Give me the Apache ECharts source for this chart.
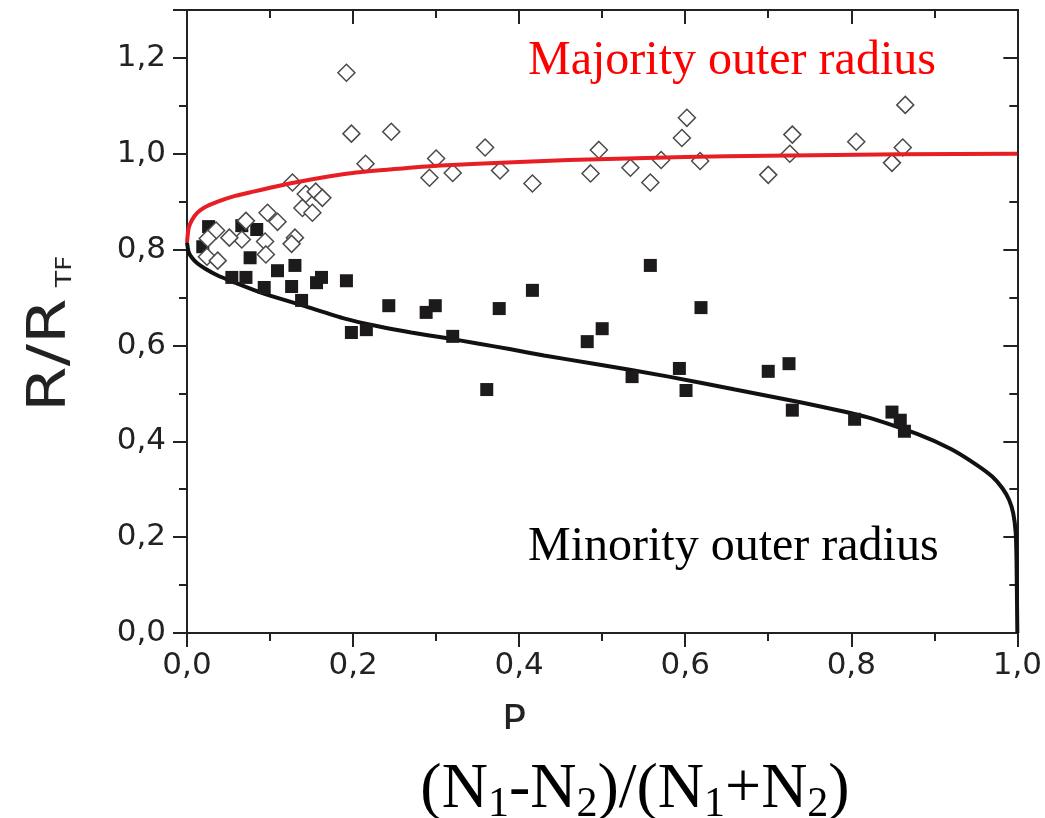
<!DOCTYPE html>
<html>
<head>
<meta charset="utf-8">
<script src="https://cdn.jsdelivr.net/npm/echarts@6/dist/echarts.min.js"></script>
<style>
  html, body { margin: 0; padding: 0; background: #fff; }
  #chart { width: 1045px; height: 818px; }
</style>
</head>
<body>
<div id="chart"></div>
<script>
// Measured outer radii (R / R_TF) versus polarization P
const minorityPoints = [
  [0.019, 0.806], [0.026, 0.848], [0.066, 0.850], [0.084, 0.842], [0.076, 0.783],
  [0.054, 0.742], [0.071, 0.742], [0.093, 0.721], [0.109, 0.756], [0.130, 0.767],
  [0.126, 0.723], [0.138, 0.694], [0.156, 0.731], [0.162, 0.742], [0.192, 0.735],
  [0.198, 0.627], [0.216, 0.633], [0.243, 0.683], [0.288, 0.669], [0.299, 0.683],
  [0.320, 0.619], [0.361, 0.508], [0.376, 0.677], [0.416, 0.715], [0.482, 0.608],
  [0.500, 0.635], [0.536, 0.535], [0.558, 0.767], [0.593, 0.552], [0.601, 0.506],
  [0.619, 0.679], [0.700, 0.546], [0.725, 0.562], [0.729, 0.465], [0.804, 0.446],
  [0.849, 0.461], [0.859, 0.444], [0.864, 0.421]
];

const majorityPoints = [
  [0.192, 1.169], [0.198, 1.042], [0.246, 1.046], [0.215, 0.979], [0.300, 0.990],
  [0.292, 0.950], [0.320, 0.960], [0.359, 1.013], [0.377, 0.965], [0.416, 0.938],
  [0.486, 0.959], [0.496, 1.008], [0.534, 0.971], [0.558, 0.940], [0.571, 0.987],
  [0.596, 1.033], [0.602, 1.075], [0.618, 0.985], [0.700, 0.956], [0.726, 1.000],
  [0.729, 1.040], [0.806, 1.025], [0.849, 0.981], [0.862, 1.013], [0.865, 1.102],
  [0.127, 0.940], [0.143, 0.916], [0.155, 0.921], [0.163, 0.908], [0.139, 0.887],
  [0.151, 0.877], [0.097, 0.877], [0.109, 0.858], [0.071, 0.860], [0.066, 0.821],
  [0.051, 0.825], [0.035, 0.840], [0.025, 0.823], [0.024, 0.785], [0.037, 0.777],
  [0.094, 0.817], [0.095, 0.790], [0.130, 0.825], [0.126, 0.812]
];

// Theory curves, sampled
const majorityCurve = [
  [0, 0.815], [0.002, 0.845], [0.006, 0.862], [0.012, 0.876], [0.020, 0.887],
  [0.037, 0.900], [0.058, 0.912], [0.080, 0.921], [0.100, 0.929], [0.130, 0.940],
  [0.172, 0.953], [0.200, 0.960], [0.250, 0.968], [0.300, 0.975], [0.400, 0.983],
  [0.460, 0.987], [0.600, 0.993], [0.700, 0.996], [0.860, 0.999], [1.000, 1.000]
];

const minorityCurve = [
  [0, 0.815], [0.002, 0.795], [0.006, 0.783], [0.012, 0.772], [0.022, 0.760],
  [0.037, 0.746], [0.058, 0.731], [0.080, 0.716], [0.100, 0.704], [0.140, 0.683],
  [0.190, 0.656], [0.230, 0.640], [0.270, 0.627], [0.310, 0.616], [0.350, 0.604],
  [0.390, 0.592], [0.430, 0.579], [0.490, 0.562], [0.580, 0.535], [0.660, 0.508],
  [0.740, 0.481], [0.820, 0.450], [0.880, 0.415], [0.920, 0.384], [0.950, 0.352],
  [0.970, 0.326], [0.982, 0.302], [0.990, 0.278], [0.995, 0.250], [0.998, 0.210],
  [0.999, 0.150], [1.000, 0.000]
];

const xTicks = { min: 0, max: 1, step: 0.2 };
const yTicks = { min: 0, max: 1.3, step: 0.2, labelMax: 1.2 };

const AXIS_COLOR = '#222';
const LABEL_FONT = 'DejaVu Sans';
const SERIF = 'Liberation Serif';

function commaLabel(v) {
  return v.toFixed(1).replace('.', ',');
}

function frameAxis(extra) {
  return Object.assign({
    type: 'value',
    axisLine: { show: true, onZero: false, lineStyle: { color: AXIS_COLOR, width: 2 } },
    splitLine: { show: false },
    minorSplitLine: { show: false }
  }, extra);
}

// Text runs with subscripts: each piece is placed after the previous one,
// using the canvas font metrics for its width.
const measureCtx = document.createElement('canvas').getContext('2d');
function textWidth(str, size, family) {
  measureCtx.font = size + 'px "' + family + '"';
  return measureCtx.measureText(str).width;
}
function textRun(pieces, family, fill, z) {
  let x = 0;
  const out = [];
  pieces.forEach(p => {
    out.push({
      type: 'text', x: x, y: p.dy, z: z,
      style: { text: p.text, fill: fill, font: p.size + 'px "' + family + '"', align: 'left', verticalAlign: 'middle' }
    });
    x += textWidth(p.text, p.size, family) + (p.gap || 0);
  });
  return { children: out, width: x };
}

// (N1-N2)/(N1+N2) below the P axis title
const MAIN = 64, SUB = 42;
const formulaRun = textRun([
  { text: '(N', size: MAIN, dy: 0 },
  { text: '1', size: SUB, dy: 15 },
  { text: '-N', size: MAIN, dy: 0 },
  { text: '2', size: SUB, dy: 15 },
  { text: ')/(N', size: MAIN, dy: 0 },
  { text: '1', size: SUB, dy: 15 },
  { text: '+N', size: MAIN, dy: 0 },
  { text: '2', size: SUB, dy: 15 },
  { text: ')', size: MAIN, dy: 0 }
], SERIF, '#000', 12);

// R/R_TF axis title, drawn along the y axis
const yTitleRun = textRun([
  { text: 'R/R', size: 54, dy: 0, gap: 9 },
  { text: 'TF', size: 22, dy: 14 }
], LABEL_FONT, AXIS_COLOR, 10);

const chart = echarts.init(document.getElementById('chart'), null, { renderer: 'canvas' });

chart.setOption({
  animation: false,
  backgroundColor: '#fff',
  grid: { left: 187, right: 26, top: 10, bottom: 185, containLabel: false },
  xAxis: [
    frameAxis({
      position: 'bottom', min: xTicks.min, max: xTicks.max, interval: xTicks.step,
      axisTick: { show: true, inside: false, length: 14, lineStyle: { color: AXIS_COLOR, width: 2 } },
      minorTick: { show: true, splitNumber: 2, length: 8, lineStyle: { color: AXIS_COLOR, width: 2 } },
      axisLabel: { formatter: commaLabel, fontFamily: LABEL_FONT, fontSize: 31, color: AXIS_COLOR, margin: 17 }
    }),
    frameAxis({
      position: 'top', min: xTicks.min, max: xTicks.max, interval: xTicks.step,
      axisTick: { show: true, inside: true, length: 14, lineStyle: { color: AXIS_COLOR, width: 2 } },
      minorTick: { show: true, splitNumber: 2, length: 8, lineStyle: { color: AXIS_COLOR, width: 2 } },
      axisLabel: { show: false }
    })
  ],
  yAxis: [
    frameAxis({
      position: 'left', min: yTicks.min, max: yTicks.max, interval: yTicks.step,
      axisTick: { show: true, inside: false, length: 14, lineStyle: { color: AXIS_COLOR, width: 2 } },
      axisLabel: {
        formatter: v => (v > yTicks.labelMax + 1e-9 ? '' : commaLabel(v)),
        fontFamily: LABEL_FONT, fontSize: 31, color: AXIS_COLOR, margin: 21
      }
    }),
    frameAxis({
      position: 'left', min: yTicks.min, max: yTicks.max, interval: yTicks.step / 2,
      axisTick: { show: true, inside: false, length: 8, lineStyle: { color: AXIS_COLOR, width: 2 } },
      axisLabel: { show: false }
    }),
    frameAxis({
      position: 'right', min: yTicks.min, max: yTicks.max, interval: yTicks.step,
      axisTick: { show: true, inside: true, length: 14, lineStyle: { color: AXIS_COLOR, width: 2 } },
      axisLabel: { show: false }
    }),
    frameAxis({
      position: 'right', min: yTicks.min, max: yTicks.max, interval: yTicks.step / 2,
      axisTick: { show: true, inside: true, length: 8, lineStyle: { color: AXIS_COLOR, width: 2 } },
      axisLabel: { show: false }
    })
  ],
  series: [
    {
      name: 'minority theory', type: 'line', xAxisIndex: 0, yAxisIndex: 0,
      data: minorityCurve, showSymbol: false, smooth: 0.2, z: 2,
      lineStyle: { color: '#111', width: 4 }
    },
    {
      name: 'minority', type: 'scatter', xAxisIndex: 0, yAxisIndex: 0,
      data: minorityPoints, symbol: 'rect', symbolSize: 13, z: 3,
      itemStyle: { color: '#1c1a1b', opacity: 1 }
    },
    {
      name: 'majority', type: 'scatter', xAxisIndex: 0, yAxisIndex: 0,
      data: majorityPoints, symbol: 'diamond', symbolSize: 17, z: 4,
      itemStyle: { color: '#fff', borderColor: '#4a4a4a', borderWidth: 1.5, opacity: 1 }
    },
    {
      name: 'majority theory', type: 'line', xAxisIndex: 0, yAxisIndex: 0,
      data: majorityCurve, showSymbol: false, smooth: 0.2, z: 5,
      lineStyle: { color: '#e81e25', width: 4 }
    }
  ],
  graphic: [
    {
      type: 'text', left: 528, top: 37, z: 10,
      style: { text: 'Majority outer radius', fill: '#ff0000', font: '48px "Liberation Serif"' }
    },
    {
      type: 'text', left: 528, top: 523, z: 10,
      style: { text: 'Minority outer radius', fill: '#000', font: '48px "Liberation Serif"' }
    },
    {
      type: 'group', x: 51, y: 412, rotation: Math.PI / 2, scaleX: 1.22, scaleY: 1,
      children: yTitleRun.children
    },
    {
      type: 'text', x: 514, y: 704, z: 10,
      style: { text: 'P', fill: AXIS_COLOR, font: '40px "DejaVu Sans"', align: 'center', verticalAlign: 'top' }
    },
    {
      type: 'rect', shape: { x: 380, y: 729, width: 520, height: 89 }, z: 11,
      style: { fill: '#fff' }
    },
    {
      type: 'group', x: 635 - formulaRun.width / 2, y: 790,
      children: formulaRun.children
    }
  ]
});
</script>
</body>
</html>
